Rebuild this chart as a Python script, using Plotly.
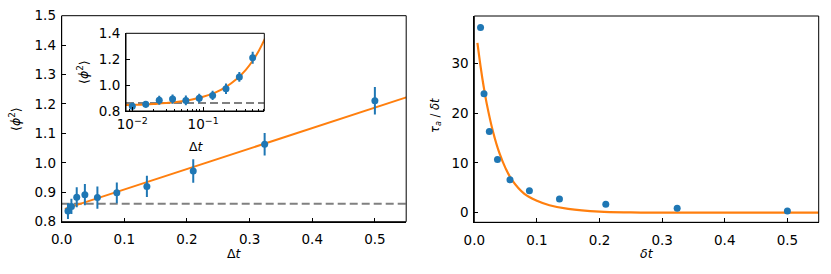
import plotly.graph_objects as go

# ---------------- data ----------------
dt = [0.01, 0.0155, 0.024, 0.037, 0.057, 0.088, 0.136, 0.21, 0.324, 0.5]
phi2 = [0.836, 0.852, 0.883, 0.892, 0.882, 0.898, 0.920, 0.972, 1.063, 1.211]
phi2_err = [0.027, 0.026, 0.034, 0.036, 0.038, 0.035, 0.036, 0.040, 0.038, 0.047]
phi2_ref = 0.861

fit_x = [0.005, 0.55]
fit_y = [0.8435, 1.2225]

inset_fit_x = [0.008, 0.01, 0.015, 0.02, 0.03, 0.05, 0.07, 0.1, 0.15, 0.2, 0.3, 0.4, 0.5, 0.6, 0.75]
inset_fit_y = [0.8456, 0.847, 0.850, 0.854, 0.861, 0.875, 0.889, 0.910, 0.944, 0.979,
               1.049, 1.118, 1.188, 1.257, 1.362]

# right panel
tau = [37.2, 23.9, 16.3, 10.7, 6.6, 4.4, 2.75, 1.68, 0.87, 0.34]
tau_fit_x = [0.005, 0.01, 0.015, 0.02, 0.03, 0.04, 0.05, 0.06, 0.08, 0.1, 0.12, 0.15,
             0.2, 0.25, 0.3, 0.4, 0.55]
tau_fit_y = [34.1, 29.4, 25.3, 21.8, 16.2, 12.0, 8.9, 6.6, 3.8, 2.4, 1.5, 0.75,
             0.2, 0.05, 0.0, 0.0, 0.0]

x_ticks = [0.0, 0.1, 0.2, 0.3, 0.4, 0.5]
main_y_ticks = [0.8, 0.9, 1.0, 1.1, 1.2, 1.3, 1.4, 1.5]
inset_y_ticks = [0.8, 1.0, 1.2, 1.4]
inset_x_ticks = [0.01, 0.1]
inset_x_ticktext = ["10<sup>−2</sup>", "10<sup>−1</sup>"]
tau_y_ticks = [0, 10, 20, 30]

# ---------------- styling ----------------
W, H = 831, 274
BLUE = "#1f77b4"
ORANGE = "#ff7f0e"
GRAY = "#808080"
FONT = "DejaVu Sans"
TICKFONT = 13.5


def fx(px):
    return px / W


def fy(py):
    return 1 - py / H


fig = go.Figure()

main_xr = [0.0, 0.55]
main_yr = [0.8, 1.5]
tau_yr = [-1.93, 39.5]
inset_xr = [0.00815, 0.73]
inset_xr_log = [-2.089, -0.137]
inset_yr = [0.8, 1.4]

# main panel
fig.add_trace(go.Scatter(x=main_xr, y=[phi2_ref, phi2_ref], mode="lines",
                         line=dict(color=GRAY, width=2, dash="8px,4px"),
                         xaxis="x", yaxis="y", showlegend=False))
fig.add_trace(go.Scatter(x=fit_x, y=fit_y, mode="lines",
                         line=dict(color=ORANGE, width=2),
                         xaxis="x", yaxis="y", showlegend=False))
fig.add_trace(go.Scatter(x=dt, y=phi2, mode="markers",
                         marker=dict(color=BLUE, size=7),
                         error_y=dict(type="data", array=phi2_err, color=BLUE,
                                      thickness=2, width=0),
                         xaxis="x", yaxis="y", showlegend=False))

# inset
fig.add_trace(go.Scatter(x=inset_xr, y=[phi2_ref, phi2_ref], mode="lines",
                         line=dict(color=GRAY, width=2, dash="8px,4px"),
                         xaxis="x3", yaxis="y3", showlegend=False))
fig.add_trace(go.Scatter(x=inset_fit_x, y=inset_fit_y, mode="lines",
                         line=dict(color=ORANGE, width=2, shape="spline"),
                         xaxis="x3", yaxis="y3", showlegend=False))
fig.add_trace(go.Scatter(x=dt, y=phi2, mode="markers",
                         marker=dict(color=BLUE, size=7),
                         error_y=dict(type="data", array=phi2_err, color=BLUE,
                                      thickness=2, width=0),
                         xaxis="x3", yaxis="y3", showlegend=False))

# right panel
fig.add_trace(go.Scatter(x=tau_fit_x, y=tau_fit_y, mode="lines",
                         line=dict(color=ORANGE, width=2.2, shape="spline"),
                         xaxis="x2", yaxis="y2", showlegend=False))
fig.add_trace(go.Scatter(x=dt, y=tau, mode="markers",
                         marker=dict(color=BLUE, size=7),
                         xaxis="x2", yaxis="y2", showlegend=False))

tick_style = dict(ticks="inside", ticklen=4, tickwidth=1, tickcolor="black",
                  showgrid=False, zeroline=False, automargin=False,
                  tickfont=dict(family=FONT, size=TICKFONT, color="black"))
axis_common = dict(showline=True, linecolor="black", linewidth=1, **tick_style)
mirror_common = dict(showline=False, showticklabels=False, **tick_style)

minor_vals = [m * 10 ** e for e in (-3, -2, -1) for m in range(2, 10)]
inset_minor = dict(ticks="inside", ticklen=2, tickwidth=0.8, tickcolor="black",
                   tickvals=minor_vals)

D_main_x = [fx(61.7), fx(406.2)]
D_main_y = [fy(221.7), fy(15.7)]
D_r_x = [fx(474.3), fx(818.7)]
D_r_y = [fy(222.3), fy(16)]
D_in_x = [fx(126), fx(264.3)]
D_in_y = [fy(111), fy(33.3)]

fig.update_layout(
    width=W, height=H,
    margin=dict(l=0, r=0, t=0, b=0, autoexpand=False),
    paper_bgcolor="white", plot_bgcolor="white",
    font=dict(family=FONT, color="black"),
    xaxis=dict(domain=D_main_x, range=main_xr, tickvals=x_ticks, tickformat=".1f",
               anchor="y", ticklabelstandoff=5, **axis_common),
    yaxis=dict(domain=D_main_y, range=main_yr, tickvals=main_y_ticks, tickformat=".1f",
               anchor="x", ticklabelstandoff=2, **axis_common),
    xaxis2=dict(domain=D_r_x, range=main_xr, tickvals=x_ticks, tickformat=".1f",
                anchor="y2", ticklabelstandoff=5, **axis_common),
    yaxis2=dict(domain=D_r_y, range=tau_yr, tickvals=tau_y_ticks,
                anchor="x2", ticklabelstandoff=2, **axis_common),
    xaxis3=dict(domain=D_in_x, type="log", range=inset_xr_log, tickvals=inset_x_ticks,
                ticktext=inset_x_ticktext, minor=inset_minor, anchor="y3",
                ticklabelstandoff=1, **axis_common),
    yaxis3=dict(domain=D_in_y, range=inset_yr, tickvals=inset_y_ticks, tickformat=".1f",
                anchor="x3", ticklabelstandoff=2, **axis_common),
    # mirrored tick axes (top / right)
    xaxis4=dict(domain=D_main_x, range=main_xr, tickvals=x_ticks, overlaying="x",
                side="top", anchor="y", **mirror_common),
    yaxis4=dict(domain=D_main_y, range=main_yr, tickvals=main_y_ticks, overlaying="y",
                side="right", anchor="x", **mirror_common),
    xaxis5=dict(domain=D_r_x, range=main_xr, tickvals=x_ticks, overlaying="x2",
                side="top", anchor="y2", **mirror_common),
    yaxis5=dict(domain=D_r_y, range=tau_yr, tickvals=tau_y_ticks, overlaying="y2",
                side="right", anchor="x2", **mirror_common),
    xaxis6=dict(domain=D_in_x, type="log", range=inset_xr_log, tickvals=inset_x_ticks,
                minor=inset_minor, overlaying="x3", side="top", anchor="y3",
                **mirror_common),
    yaxis6=dict(domain=D_in_y, range=inset_yr, tickvals=inset_y_ticks, overlaying="y3",
                side="right", anchor="x3", **mirror_common),
)

# frame rectangles around every panel
for xr_, yr_ in (("x", "y"), ("x2", "y2"), ("x3", "y3")):
    fig.add_shape(type="rect", xref=f"{xr_} domain", yref=f"{yr_} domain",
                  x0=0, x1=1, y0=0, y1=1, line=dict(color="black", width=1),
                  fillcolor="rgba(0,0,0,0)", layer="above")

annos = [
    dict(x=fx(234), y=fy(253), text="Δ<i>t</i>", font=dict(size=12.5)),
    dict(x=fx(15), y=fy(119), text="⟨<i>ϕ</i><sup>2</sup>⟩", textangle=-90, font=dict(size=12.5)),
    dict(x=fx(196.5), y=fy(146), text="Δ<i>t</i>", font=dict(size=12.5)),
    dict(x=fx(83), y=fy(72), text="⟨<i>ϕ</i><sup>2</sup>⟩", textangle=-90, font=dict(size=12.5)),
    dict(x=fx(646.5), y=fy(253), text="<i>δt</i>", font=dict(size=12.5)),
    dict(x=fx(436), y=fy(116), text="<i>τ<sub>a</sub></i> / <i>δt</i>", textangle=-90,
         font=dict(size=11.5)),
]
for a in annos:
    a.update(xref="paper", yref="paper", showarrow=False, xanchor="center", yanchor="middle")
    a["font"].update(family=FONT, color="black")
    fig.add_annotation(**a)

fig.write_html("out.html", config={"displayModeBar": False},
               post_script="document.body.style.margin='0';")
